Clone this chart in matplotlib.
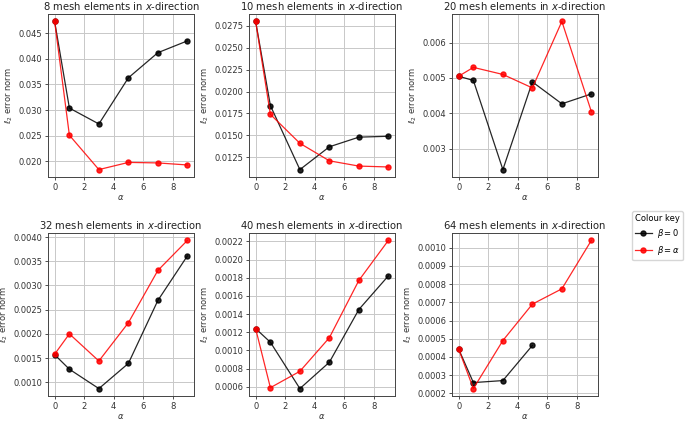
import matplotlib
matplotlib.use('Agg')
import matplotlib.pyplot as plt
from matplotlib.ticker import MultipleLocator

alpha_vals = [0, 1, 3, 5, 7, 9]
mesh_sizes = [8, 10, 20, 32, 40, 64]

## l2 error norms, beta = 0 ##
beta_zero = {
    8: [0.0473, 0.0304, 0.0273, 0.0363, 0.0412, 0.0435],
    10: [0.0280, 0.0184, 0.0111, 0.0137, 0.0148, 0.0149],
    20: [0.00505, 0.00493, 0.00241, 0.00489, 0.00427, 0.00455],
    32: [0.00157, 0.00127, 0.00087, 0.00139, 0.00269, 0.00361],
    40: [0.00124, 0.00109, 0.00058, 0.00087, 0.00145, 0.00182],
    64: [0.000443, 0.000259, 0.00027, 0.000463],
}

## l2 error norms, beta = alpha ##
beta_alpha = {
    8: [0.0473, 0.0251, 0.0184, 0.0198, 0.0197, 0.0193],
    10: [0.0280, 0.0174, 0.0141, 0.0121, 0.0115, 0.0114],
    20: [0.00505, 0.0053, 0.0051, 0.00472, 0.0066, 0.00405],
    32: [0.00158, 0.0020, 0.00144, 0.00223, 0.00331, 0.00393],
    40: [0.00124, 0.00059, 0.00077, 0.00114, 0.00177, 0.00221],
    64: [0.000443, 0.000226, 0.00049, 0.00069, 0.000774, 0.00104],
}

## y tick spacing per panel ##
y_step = {8: 0.005, 10: 0.0025, 20: 0.001, 32: 0.0005, 40: 0.0002, 64: 0.0001}

fig = plt.figure(figsize=(6.85, 4.21), dpi=100)

# axes positions in pixels
lefts = [48, 249, 452]
w = 146
tops = [14, 233]
h = 163

txt = '#333333'
for k, n in enumerate(mesh_sizes):
    row, col = divmod(k, 3)
    ax = fig.add_axes([lefts[col] / 685, 1 - (tops[row] + h) / 421, w / 685, h / 421])
    y0 = beta_zero[n]
    ya = beta_alpha[n]
    ax.plot(alpha_vals[:len(y0)], y0, '-o', color='k', lw=0.9, ms=3.6, label=r'$\beta = 0$', alpha=0.85)
    ax.plot(alpha_vals[:len(ya)], ya, '-o', color='r', lw=0.9, ms=3.6, label=r'$\beta = \alpha$', alpha=0.85)
    ax.grid(True, color='#c8c8c8', linewidth=0.7)
    ax.set_axisbelow(True)
    ax.set_xticks([0, 2, 4, 6, 8])
    ax.yaxis.set_major_locator(MultipleLocator(y_step[n]))
    ax.tick_params(labelsize=6, colors=txt, width=0.6, length=2.5, pad=1.5)
    for s in ax.spines.values():
        s.set_color('#444444')
        s.set_linewidth(0.7)
    ax.set_xlabel(r'$\alpha$', fontsize=6, color=txt, labelpad=1)
    ax.set_ylabel(r'$\ell_2$ error norm', fontsize=6, color=txt, labelpad=2.5)
    ax.set_title(rf'{n} mesh elements in $x$-direction', fontsize=7.2, color='#222222', pad=3)
    if k == 5:
        handles, labels = ax.get_legend_handles_labels()

fig.legend(handles, labels, title='Colour key', loc='upper left',
           bbox_to_anchor=(632 / 685, 1 - 211 / 421), borderaxespad=0,
           fontsize=6, title_fontsize=6, frameon=True, edgecolor='#cccccc',
           borderpad=0.35, handlelength=2.0, handletextpad=0.6, labelspacing=0.5)

plt.savefig('out.png', dpi=100)
